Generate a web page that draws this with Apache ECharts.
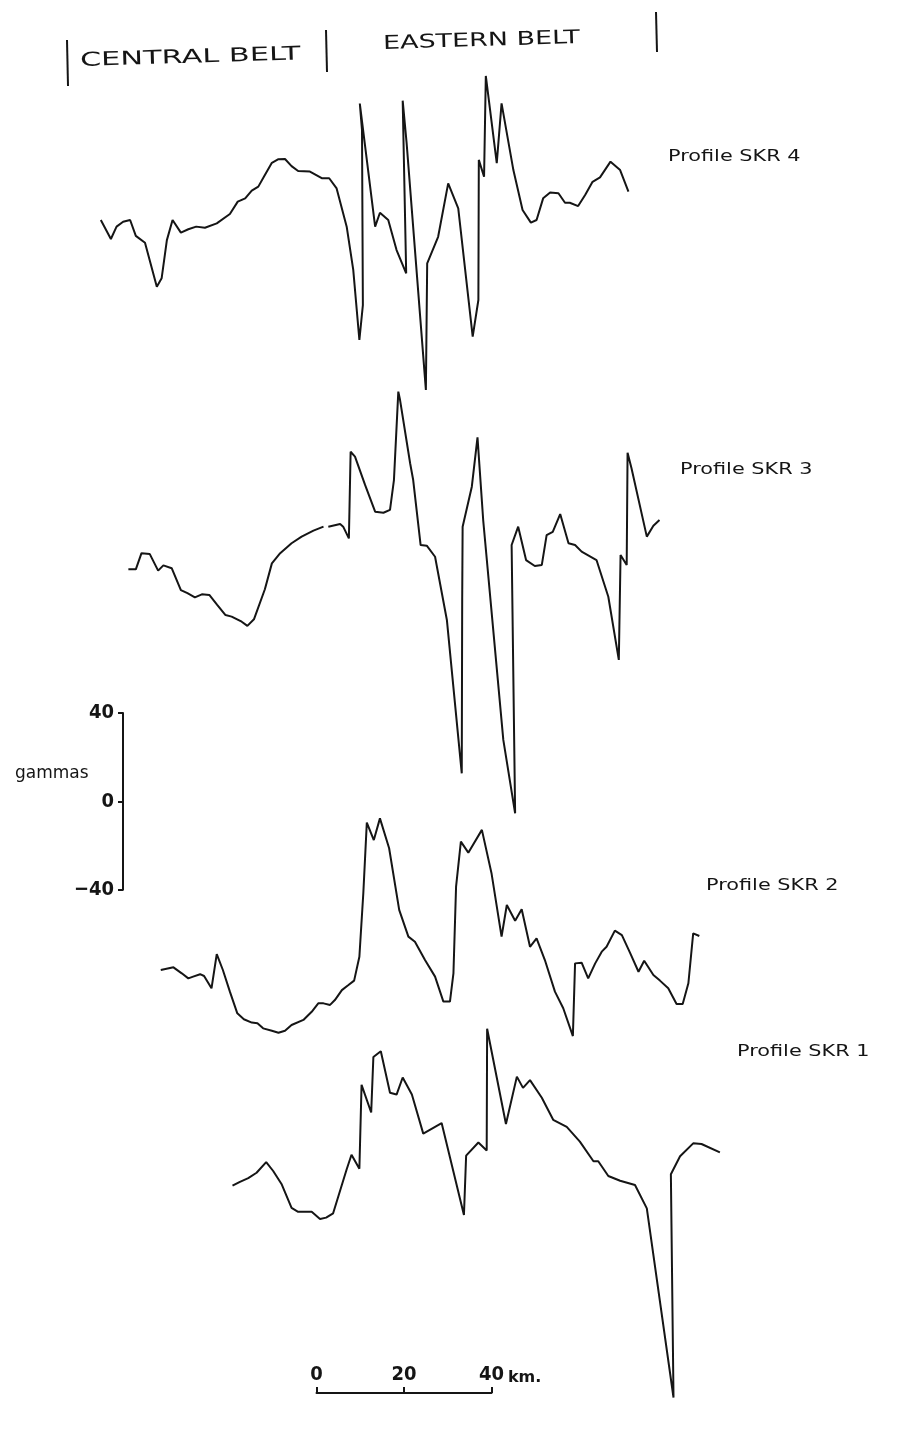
<!DOCTYPE html>
<html>
<head>
<meta charset="utf-8">
<script src="https://cdn.jsdelivr.net/npm/echarts@6/dist/echarts.min.js"></script>
<style>
html,body{margin:0;padding:0;background:#fff;}
#chart{width:908px;height:1434px;}
</style>
</head>
<body>
<div id="chart"></div>
<script>
// ---- DATA (distance along profile in km, anomaly in gammas) ----
const skr4Km = [-49.3,-47.0,-45.7,-44.2,-42.6,-41.3,-39.2,-36.5,-35.4,-34.2,-32.9,-31.0,-29.3,-27.5,-25.5,-22.8,-19.8,-18.0,-16.3,-14.8,-13.3,-11.8,-10.2,-8.7,-7.2,-5.7,-4.2,-1.5,1.2,2.9,4.6,6.9,8.4,9.8,10.6,10.4,9.9,13.4,14.5,16.4,18.3,20.5,19.7,20.6,25.0,25.3,27.8,30.1,32.4,35.7,37.0,37.1,38.3,38.7,41.2,42.3,45.0,47.1,49.0,50.3,51.8,53.4,55.3,56.8,57.9,59.8,61.4,63.1,64.8,67.2,69.4,71.3];
const skr4Gamma = [0,-8.6,-3.0,-0.8,0,-7.2,-10.3,-30.2,-26.4,-9.1,0,-5.7,-4.2,-3.0,-3.5,-1.5,2.7,8.3,9.8,13.3,15.1,20.4,25.9,27.5,27.6,24.4,22.2,21.9,18.9,18.9,14.3,-3.0,-22.6,-54.3,-38.5,40.7,52.7,-3.0,3.3,0,-13.6,-24.1,54.0,34.8,-76.9,-19.6,-7.6,16.6,5.3,-52.8,-36.2,27.2,19.6,65.2,25.7,52.8,22.6,4.5,-1.2,0,9.8,12.4,12.1,7.8,7.8,6.3,11.3,17.3,19.3,26.4,22.6,12.8];

const skr3Km = [-43.0,-41.3,-40.0,-38.1,-36.2,-35.0,-33.1,-31.0,-29.5,-27.8,-26.2,-24.5,-22.7,-20.8,-19.4,-17.1,-15.8,-14.3,-11.8,-10.2,-8.3,-5.7,-3.4,-0.7,1.6,2.1,2.7,5.4,6.1,7.4,7.8,8.8,11.1,13.4,15.3,16.8,17.7,18.7,19.1,21.4,22.1,23.8,25.2,27.1,29.8,33.2,33.3,33.4,35.5,36.8,38.1,42.7,45.4,44.6,46.1,47.9,49.9,51.5,52.6,54.0,55.7,57.6,59.1,60.6,64.0,66.7,69.1,69.5,70.9,71.1,72.0,75.5,77.0,78.4];
const skr3Gamma = [0.3,0.3,7.6,7.2,-0.3,2.1,0.8,-9.1,-10.5,-12.4,-11.0,-11.3,-15.8,-20.4,-21.1,-23.4,-25.3,-22.3,-8.7,3.0,7.6,12.1,15.1,17.8,19.6,null,19.6,20.8,19.6,14.3,53.5,51.3,38.5,26.4,25.9,27.2,40.7,80.7,76.9,48.3,40.7,11.3,11.0,6.0,-22.6,-92.0,-13.6,19.6,37.7,60.0,22.6,-76.9,-110.1,11.3,19.6,4.5,1.8,2.3,15.8,17.3,25.3,12.1,11.3,8.3,4.5,-12.1,-40.7,6.8,2.3,53.1,46.0,15.1,20.0,22.6];

const skr2Km = [-35.6,-32.7,-30.8,-29.3,-28.2,-26.6,-25.7,-24.0,-22.8,-21.4,-19.8,-18.1,-16.6,-14.8,-13.5,-12.2,-10.2,-8.7,-7.2,-5.7,-3.0,-1.1,0.4,1.6,3.1,4.2,5.8,7.3,8.6,9.8,10.7,11.5,13.1,14.5,16.6,18.9,21.0,22.5,24.8,27.1,29.0,30.5,31.3,31.9,33.0,34.7,37.8,40.0,42.3,43.5,45.4,46.9,48.8,50.3,52.2,54.5,56.4,58.6,59.1,60.6,62.1,63.7,65.2,66.3,68.2,69.8,71.7,73.6,74.9,77.0,78.5,80.4,82.3,83.7,85.0,86.1,87.5];
const skr2Gamma = [0,1.2,-1.5,-3.8,-3.0,-1.9,-2.7,-8.3,7.2,0,-9.8,-19.6,-22.3,-23.8,-24.1,-26.4,-27.5,-28.4,-27.5,-24.9,-22.6,-18.9,-15.1,-15.1,-15.8,-13.6,-9.1,-6.8,-4.8,6.0,34.7,66.7,58.8,68.6,55.1,27.2,15.1,12.8,4.5,-3.0,-14.3,-14.3,-1.5,37.7,58.1,53.1,63.4,43.8,15.1,29.4,22.3,27.5,10.5,14.3,4.5,-9.8,-17.3,-29.9,3.0,3.3,-3.8,3.0,8.3,10.5,17.8,15.8,7.6,-0.8,4.2,-2.3,-4.8,-8.3,-15.4,-15.4,-6.0,16.6,15.4];

const skr1Km = [-19.2,-17.5,-15.6,-13.7,-11.5,-9.9,-8.0,-5.7,-4.2,-1.1,0.8,2.2,3.8,6.9,8.0,9.8,10.3,12.5,13.0,14.7,16.8,18.3,19.7,21.8,24.4,28.6,33.7,34.2,37.0,38.9,39.0,43.3,45.8,47.2,48.8,51.5,54.1,57.2,60.2,63.3,64.4,66.7,69.4,72.8,75.5,81.6,81.0,83.1,86.1,88.0,92.2];
const skr1Gamma = [0,1.8,3.5,6.0,10.9,6.8,0.8,-10.3,-12.1,-12.1,-15.4,-14.8,-12.8,7.6,14.3,7.8,46.7,33.9,59.6,62.3,43.0,42.2,50.1,42.2,24.1,29.0,-13.6,13.9,20.0,16.3,72.7,28.6,50.5,45.3,48.9,40.7,30.5,27.2,20.4,11.3,11.3,4.5,2.3,0.3,-10.5,-98.1,5.3,13.6,19.6,19.3,15.4];

const profileNames = ['Profile SKR 4', 'Profile SKR 3', 'Profile SKR 2', 'Profile SKR 1'];
const beltNames = ['CENTRAL BELT', 'EASTERN BELT'];
const gammaTicks = [-40, 0, 40];
const kmTicks = [0, 20, 40];

// ---- LAYOUT ----
const KM_MIN = -60, KM_MAX = 100, PX_PER_KM = 4.375, KM_ZERO_PX = 316.5;
const G_MIN = -115, G_MAX = 85, PX_PER_G = 2.21;
const baselinePx = [220, 570, 970, 1190];
const INK = '#151515';

const profiles = [
  [skr4Km, skr4Gamma], [skr3Km, skr3Gamma], [skr2Km, skr2Gamma], [skr1Km, skr1Gamma]
];

const gridLeft = KM_ZERO_PX + KM_MIN * PX_PER_KM;
const gridWidth = (KM_MAX - KM_MIN) * PX_PER_KM;
const gridHeight = (G_MAX - G_MIN) * PX_PER_G;

const grids = [], xAxes = [], yAxes = [], series = [];
profiles.forEach((p, i) => {
  grids.push({ left: gridLeft, width: gridWidth, top: baselinePx[i] - G_MAX * PX_PER_G, height: gridHeight });
  xAxes.push({ type: 'value', gridIndex: i, min: KM_MIN, max: KM_MAX, show: false });
  yAxes.push({ type: 'value', gridIndex: i, min: G_MIN, max: G_MAX, show: false });
  series.push({
    type: 'line', name: profileNames[i], xAxisIndex: i, yAxisIndex: i,
    data: p[0].map((k, j) => [k, p[1][j]]),
    showSymbol: false, symbol: 'none', connectNulls: false, clip: false,
    lineStyle: { color: INK, width: 2 }, silent: true
  });
});

const tickFont = '"Liberation Sans Narrow", "DejaVu Sans Condensed", sans-serif';

// gamma scale bar
grids.push({ left: 123, width: 1, top: 713, height: (gammaTicks[2] - gammaTicks[0]) * PX_PER_G });
xAxes.push({ type: 'value', gridIndex: 4, show: false });
yAxes.push({
  type: 'value', gridIndex: 4, min: gammaTicks[0], max: gammaTicks[2], interval: 40, position: 'left',
  axisLine: { show: true, lineStyle: { color: INK, width: 2 } },
  axisTick: { show: true, length: 5, lineStyle: { color: INK, width: 2 } },
  splitLine: { show: false },
  axisLabel: { color: INK, fontSize: 20, fontWeight: 'bold', fontFamily: tickFont, margin: 9,
    formatter: v => v < 0 ? '\u2212' + Math.abs(v) : String(v) }
});

// km scale bar
grids.push({ left: KM_ZERO_PX, width: (kmTicks[2] - kmTicks[0]) * PX_PER_KM, top: 1363, height: 30 });
xAxes.push({
  type: 'value', gridIndex: 5, min: kmTicks[0], max: kmTicks[2], interval: 20, position: 'bottom',
  axisLine: { show: true, lineStyle: { color: INK, width: 2 } },
  axisTick: { show: true, inside: true, length: 6, lineStyle: { color: INK, width: 2 } },
  splitLine: { show: false },
  axisLabel: { inside: true, color: INK, fontSize: 20, fontWeight: 'bold', fontFamily: tickFont, margin: 8 },
  name: 'km.', nameLocation: 'end', nameGap: 16,
  nameTextStyle: { color: INK, fontSize: 16, fontWeight: 'bold', fontFamily: '"DejaVu Sans", sans-serif',
    verticalAlign: 'bottom', padding: [0, 0, 7, 0] }
});
yAxes.push({ type: 'value', gridIndex: 5, min: 0, max: 1, show: false });

const labelFont = '"DejaVu Sans", sans-serif';
function txt(text, x, y, size, sx, rot) {
  return { type: 'text', x: x, y: y, scaleX: sx || 1, rotation: rot || 0, silent: true,
    style: { text: text, fontSize: size, fontFamily: labelFont, fill: INK, verticalAlign: 'middle', align: 'left' } };
}
function bar(x1, y1, x2, y2) {
  return { type: 'line', silent: true, shape: { x1, y1, x2, y2 }, style: { stroke: INK, lineWidth: 2 } };
}

const graphic = [
  bar(67, 40, 68, 86), bar(326, 30, 327, 72), bar(656, 12, 657, 52),
  txt(beltNames[0], 80, 61, 19, 1.6, 0.03),
  txt(beltNames[1], 383, 44, 19, 1.42, 0.03),
  txt(profileNames[0], 668, 157, 16, 1.3, 0),
  txt(profileNames[1], 680, 470, 16, 1.3, 0),
  txt(profileNames[2], 706, 886, 16, 1.3, 0),
  txt(profileNames[3], 737, 1052, 16, 1.3, 0),
  txt('gammas', 15, 774, 17, 1.0, 0)
];

const chart = echarts.init(document.getElementById('chart'), null, { renderer: 'canvas' });
chart.setOption({
  animation: false,
  backgroundColor: '#ffffff',
  grid: grids, xAxis: xAxes, yAxis: yAxes, series: series,
  graphic: graphic
});
</script>
</body>
</html>
